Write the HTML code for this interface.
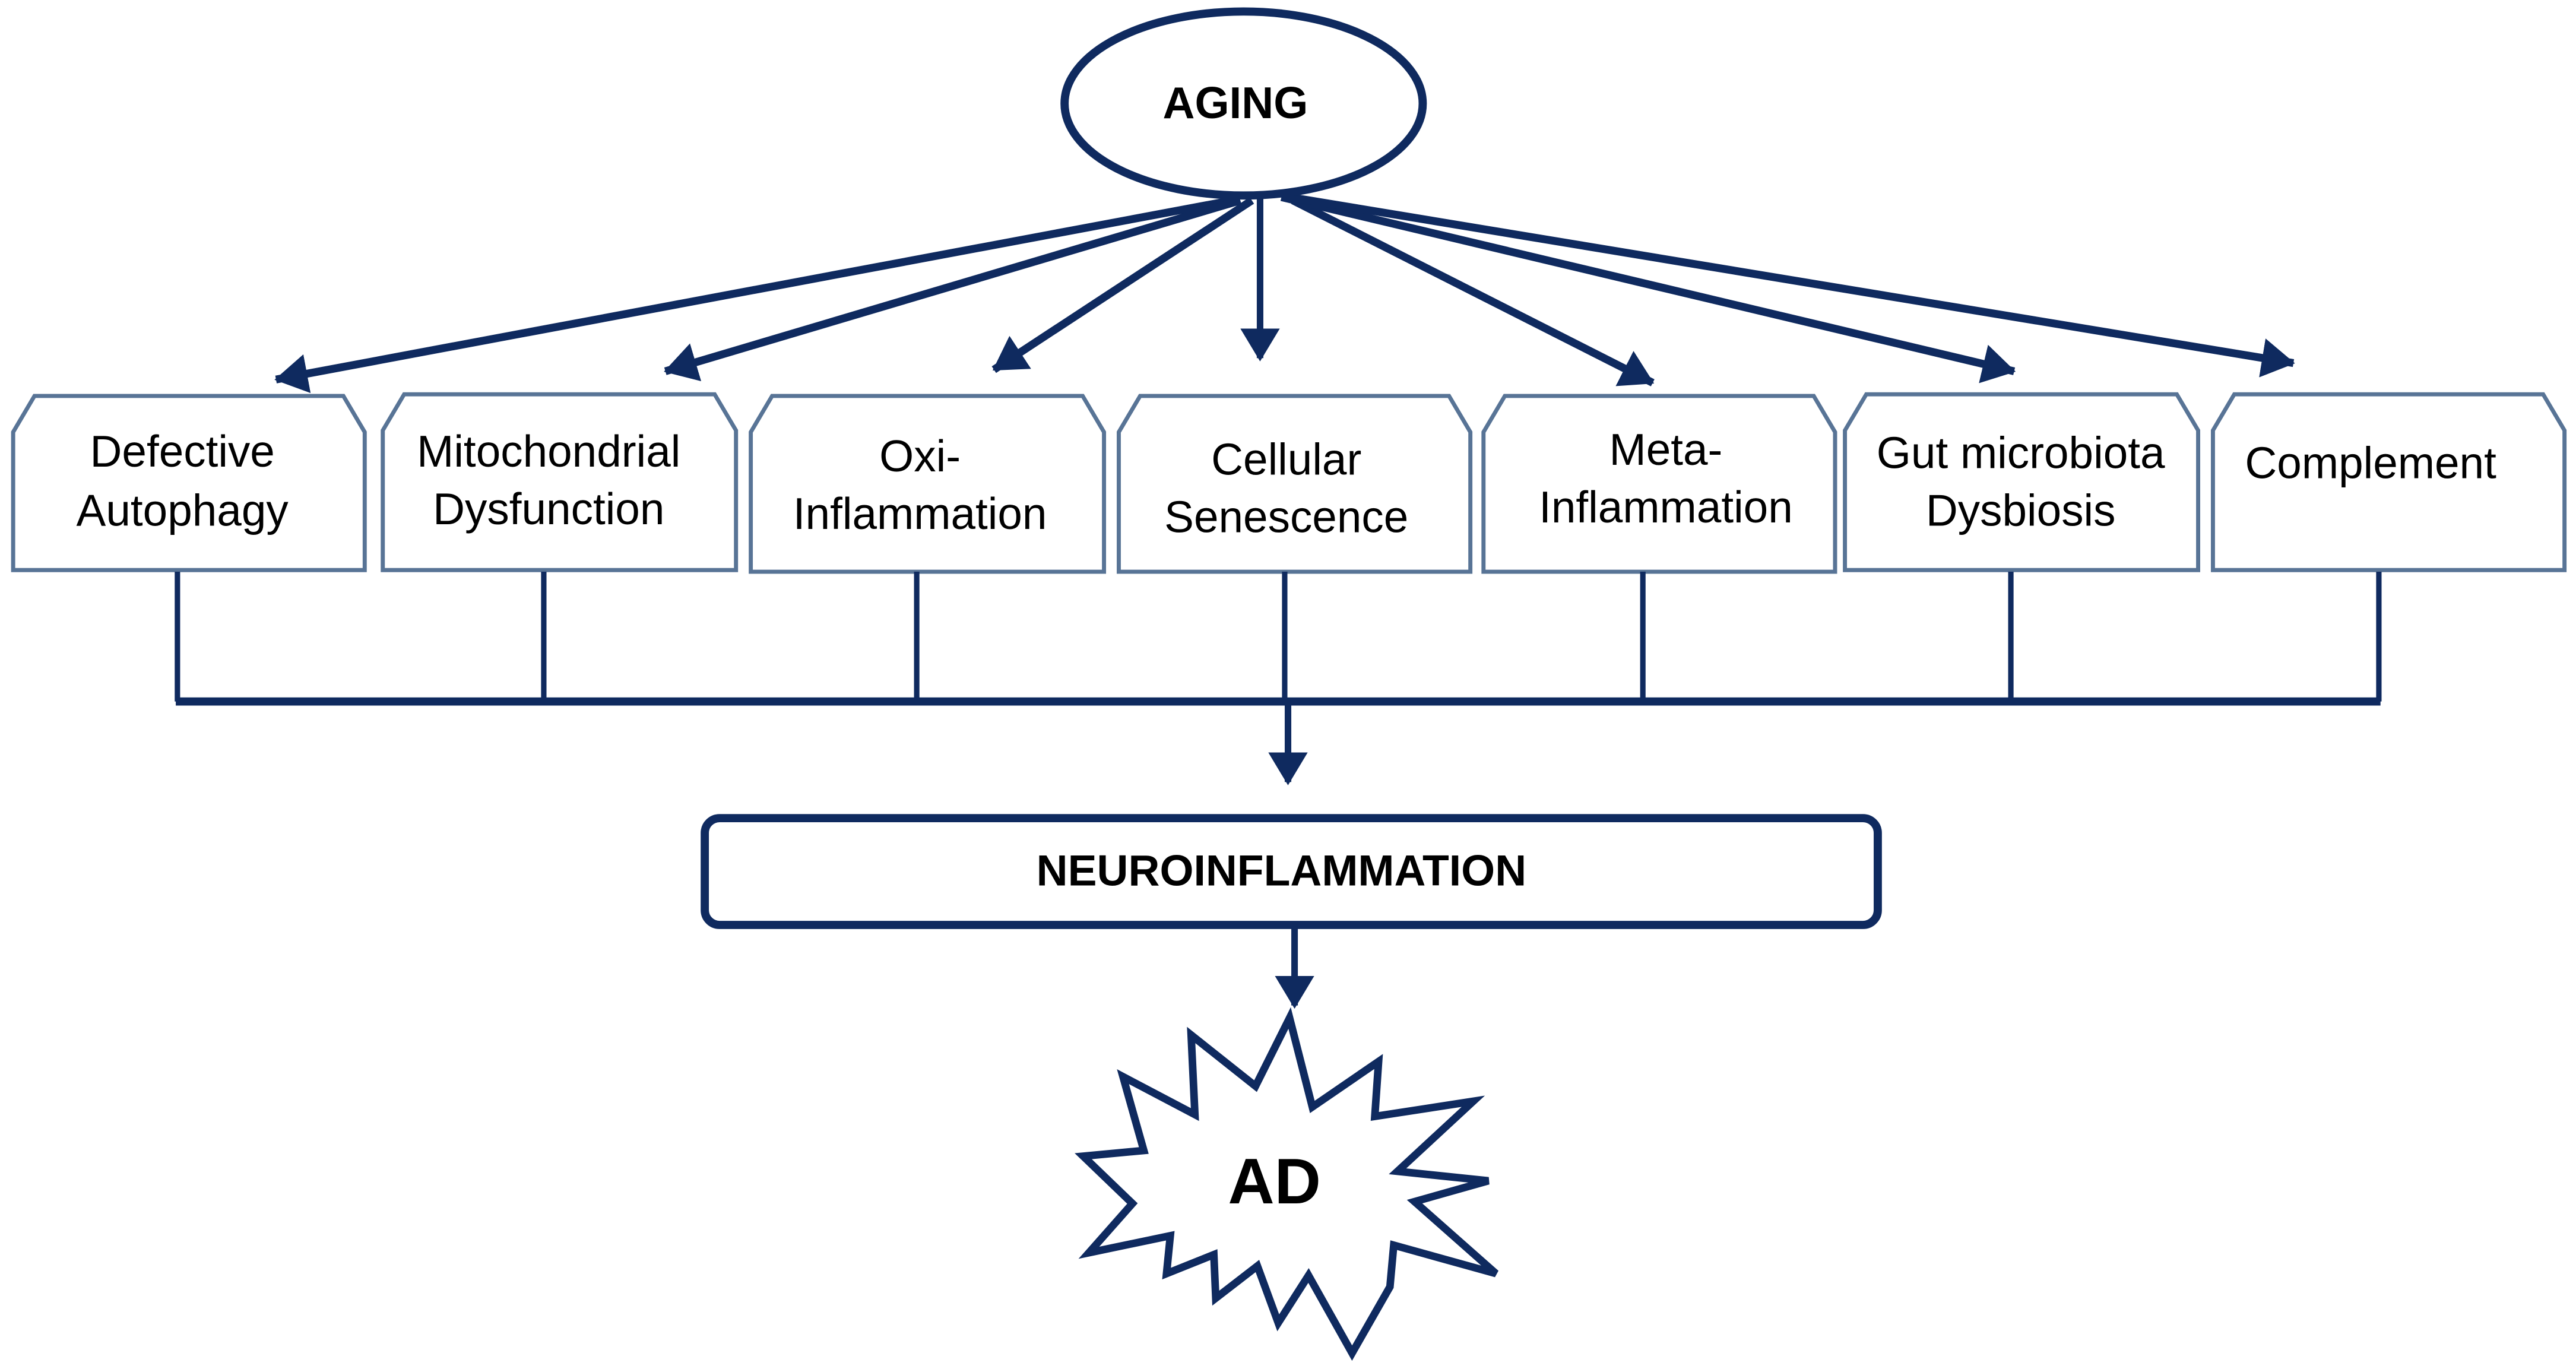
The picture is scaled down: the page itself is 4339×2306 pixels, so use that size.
<!DOCTYPE html>
<html><head><meta charset="utf-8"><style>
html,body{margin:0;padding:0;background:#fff}
svg{display:block}
text{font-family:"Liberation Sans",Arial,sans-serif}
</style></head><body>
<svg width="4339" height="2306" viewBox="0 0 1568 833.3" preserveAspectRatio="none" xmlns="http://www.w3.org/2000/svg">
<defs>
<marker id="ah" markerWidth="6" markerHeight="6" refX="4.5" refY="3" orient="auto" markerUnits="strokeWidth">
<path d="M0,0 L5,3 L0,6 z" fill="#0f2a5f"/>
</marker>
<marker id="ah2" markerWidth="5" markerHeight="5" refX="4" refY="2.5" orient="auto" markerUnits="strokeWidth">
<path d="M0,0 L4.2,2.5 L0,5 z" fill="#0f2a5f"/>
</marker>
</defs>
<rect width="1568" height="833.3" fill="#fff"/>
<g stroke="#0f2a5f" stroke-width="4.8" fill="none" marker-end="url(#ah2)">
<line x1="750" y1="122" x2="168" y2="231"/>
<line x1="755" y1="122" x2="405" y2="226"/>
<line x1="762" y1="122" x2="605" y2="225"/>
<line x1="787" y1="122" x2="1006" y2="233"/>
<line x1="780" y1="120" x2="1226" y2="226"/>
<line x1="785" y1="120" x2="1396" y2="221"/>
</g>
<line x1="767" y1="118" x2="767" y2="218" stroke="#0f2a5f" stroke-width="4" marker-end="url(#ah)"/>
<ellipse cx="757" cy="63" rx="109" ry="56" fill="#fff" stroke="#0f2a5f" stroke-width="5"/>
<text x="752" y="72" font-size="27" font-weight="bold" text-anchor="middle">AGING</text>
<g fill="#fff" stroke="#587496" stroke-width="2.5">
<path d="M8,347 V263 L21,241 H209 L222,263 V347 Z"/>
<path d="M233,347 V262 L246,240 H435 L448,262 V347 Z"/>
<path d="M457,348 V263 L470,241 H659 L672,263 V348 Z"/>
<path d="M681,348 V263 L694,241 H882 L895,263 V348 Z"/>
<path d="M903,348 V263 L916,241 H1104 L1117,263 V348 Z"/>
<path d="M1123,347 V262 L1136,240 H1325 L1338,262 V347 Z"/>
<path d="M1347,347 V262 L1360,240 H1548 L1561,262 V347 Z"/>
</g>
<g font-size="27" text-anchor="middle" fill="#000">
<text x="111" y="284">Defective</text><text x="111" y="320">Autophagy</text>
<text x="334" y="284">Mitochondrial</text><text x="334" y="319">Dysfunction</text>
<text x="560" y="287">Oxi-</text><text x="560" y="322">Inflammation</text>
<text x="783" y="289">Cellular</text><text x="783" y="324">Senescence</text>
<text x="1014" y="283">Meta-</text><text x="1014" y="318">Inflammation</text>
<text x="1230" y="285">Gut microbiota</text><text x="1230" y="320">Dysbiosis</text>
<text x="1443" y="291">Complement</text>
</g>
<g stroke="#0f2a5f" stroke-width="3.3" fill="none">
<line x1="108" y1="348" x2="108" y2="427"/>
<line x1="331" y1="348" x2="331" y2="427"/>
<line x1="558" y1="348" x2="558" y2="427"/>
<line x1="782" y1="348" x2="782" y2="427"/>
<line x1="1000" y1="348" x2="1000" y2="427"/>
<line x1="1224" y1="348" x2="1224" y2="427"/>
<line x1="1448" y1="348" x2="1448" y2="427"/>
</g>
<line x1="107" y1="427" x2="1449" y2="427" stroke="#0f2a5f" stroke-width="5"/>
<line x1="784" y1="428" x2="784" y2="476" stroke="#0f2a5f" stroke-width="4" marker-end="url(#ah)"/>
<rect x="429" y="498" width="714" height="65" rx="9" fill="#fff" stroke="#0f2a5f" stroke-width="5"/>
<text x="780" y="539" font-size="26.5" font-weight="bold" text-anchor="middle">NEUROINFLAMMATION</text>
<line x1="788" y1="564" x2="788" y2="612" stroke="#0f2a5f" stroke-width="4" marker-end="url(#ah)"/>
<g transform="translate(614.4,469.8) scale(0.2305)">
<path d="M740,650 L800,885 L975,765 L965,910 L1225,870 L1025,1055 L1265,1080 L1070,1135 L1285,1325 L1015,1250 L1005,1360 L905,1535 L790,1330 L710,1455 L655,1305 L545,1390 L540,1275 L415,1325 L425,1225 L210,1270 L325,1140 L195,1015 L355,1000 L300,805 L490,905 L480,695 L650,830 Z" fill="#fff" stroke="#0f2a5f" stroke-width="20" stroke-linejoin="miter"/>
<text x="700" y="1140" font-size="170" font-weight="bold" text-anchor="middle">AD</text>
</g>
</svg>
</body></html>
